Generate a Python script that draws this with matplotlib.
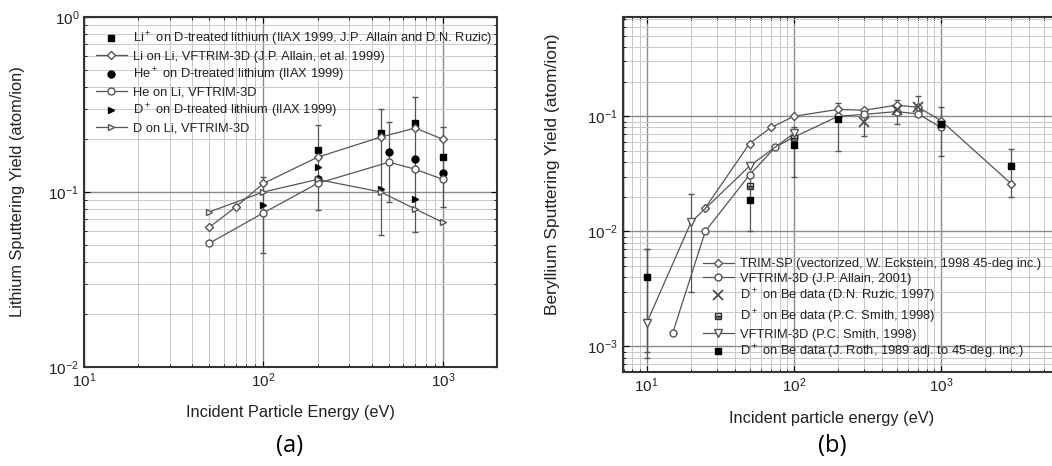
import numpy as np
import matplotlib
matplotlib.use("Agg")
import matplotlib.pyplot as plt

plt.rcParams['font.family'] = ['Liberation Sans', 'DejaVu Sans']
plt.rcParams['mathtext.default'] = 'regular'

# ---------------- (a) lithium data ----------------
li_exp_e = [200, 450, 700, 1000]
li_exp_y = [0.174, 0.217, 0.248, 0.158]
li_exp_lo = [0.079, 0.057, 0.059, 0.082]
li_exp_hi = [0.24, 0.30, 0.35, 0.235]

li_sim_e = [50, 70, 100, 200, 450, 700, 1000]
li_sim_y = [0.063, 0.082, 0.112, 0.158, 0.206, 0.232, 0.20]

he_exp_e = [200, 500, 700, 1000]
he_exp_y = [0.119, 0.169, 0.154, 0.129]
he_exp_lo = [0.088]
he_exp_hi = [0.25]

he_sim_e = [50, 100, 200, 500, 700, 1000]
he_sim_y = [0.051, 0.076, 0.112, 0.148, 0.135, 0.118]

d_exp_e = [100, 200, 450, 700]
d_exp_y = [0.084, 0.139, 0.104, 0.091]
d_exp_lo = [0.045]
d_exp_hi = [0.122]

d_sim_e = [50, 100, 200, 450, 700, 1000]
d_sim_y = [0.077, 0.100, 0.118, 0.100, 0.080, 0.067]

# ---------------- (b) beryllium data ----------------
trim_e = [25, 50, 70, 100, 200, 300, 500, 700, 1000, 3000]
trim_y = [0.016, 0.058, 0.080, 0.100, 0.115, 0.113, 0.125, 0.120, 0.092, 0.026]

vf_allain_e = [15, 25, 50, 75, 100, 200, 300, 500, 700, 1000]
vf_allain_y = [0.0013, 0.010, 0.031, 0.054, 0.066, 0.100, 0.104, 0.110, 0.105, 0.080]

ruzic_e = [300, 500, 700]
ruzic_y = [0.089, 0.113, 0.120]
ruzic_lo = [0.068, 0.085, 0.100]
ruzic_hi = [0.115, 0.140, 0.150]

smith_e = [50, 100, 1000]
smith_y = [0.025, 0.065, 0.085]

vf_smith_e = [10, 20, 50, 100]
vf_smith_y = [0.0016, 0.012, 0.037, 0.071]
vf_smith_lo = [0.0008, 0.003, 0.010, 0.030]
vf_smith_hi = [0.007, 0.021, 0.030, 0.080]

roth_e = [10, 50, 100, 200, 1000, 3000]
roth_y = [0.004, 0.0186, 0.056, 0.094, 0.085, 0.037]
roth_lo = [0.0009, 0.010, 0.030, 0.050, 0.045, 0.020]
roth_hi = [0.007, 0.030, 0.080, 0.130, 0.120, 0.052]

line_c = '#555555'
txt_c = '#222222'
ms = 5

fig = plt.figure(figsize=(10.52, 4.66), dpi=100)
W, H = 1052, 466


def style_axes(ax):
    ax.set_xscale('log')
    ax.set_yscale('log')
    ax.grid(True, which='major', color='#8a8a8a', lw=1.0)
    ax.grid(True, which='minor', color='#c8c8c8', lw=0.7)
    ax.set_axisbelow(True)
    ax.tick_params(which='both', direction='in', top=True, right=True, labelsize=11,
                   labelcolor=txt_c)
    ax.tick_params(which='major', length=4)
    ax.tick_params(which='minor', length=2)
    ax.yaxis.set_minor_formatter(matplotlib.ticker.NullFormatter())
    ax.xaxis.set_minor_formatter(matplotlib.ticker.NullFormatter())
    for s in ax.spines.values():
        s.set_linewidth(1.5)
        s.set_color('#333333')


# ---------------- panel (a) ----------------
ax1 = fig.add_axes([84 / W, (H - 367) / H, (497 - 84) / W, (367 - 17) / H])
style_axes(ax1)
ax1.set_xlim(10, 2000)
ax1.set_ylim(0.01, 1)

ax1.errorbar(li_exp_e, li_exp_y,
             yerr=[np.array(li_exp_y) - np.array(li_exp_lo), np.array(li_exp_hi) - np.array(li_exp_y)],
             fmt='none', ecolor=line_c, elinewidth=0.9, capsize=2.5)
ax1.errorbar([500], [he_exp_y[1]],
             yerr=[[he_exp_y[1] - he_exp_lo[0]], [he_exp_hi[0] - he_exp_y[1]]],
             fmt='none', ecolor=line_c, elinewidth=0.9, capsize=2.5)
ax1.errorbar([100], [d_exp_y[0]],
             yerr=[[d_exp_y[0] - d_exp_lo[0]], [d_exp_hi[0] - d_exp_y[0]]],
             fmt='none', ecolor=line_c, elinewidth=0.9, capsize=2.5)

ax1.plot(li_exp_e, li_exp_y, 's', color='black', ms=ms, ls='none',
         label='Li$^+$ on D-treated lithium (IIAX 1999, J.P. Allain and D.N. Ruzic)')
ax1.plot(li_sim_e, li_sim_y, 'D-', color=line_c, mfc='white', mec=line_c, ms=ms - 0.5, lw=0.9,
         label='Li on Li, VFTRIM-3D (J.P. Allain, et al. 1999)')
ax1.plot(he_exp_e, he_exp_y, 'o', color='black', ms=ms, ls='none',
         label='He$^+$ on D-treated lithium (IIAX 1999)')
ax1.plot(he_sim_e, he_sim_y, 'o-', color=line_c, mfc='white', mec=line_c, ms=ms, lw=0.9,
         label='He on Li, VFTRIM-3D')
ax1.plot(d_exp_e, d_exp_y, '>', color='black', ms=ms, ls='none',
         label='D$^+$ on D-treated lithium (IIAX 1999)')
ax1.plot(d_sim_e, d_sim_y, '>-', color=line_c, mfc='white', mec=line_c, ms=ms, lw=0.9,
         label='D on Li, VFTRIM-3D')

leg1 = ax1.legend(loc='upper left', bbox_to_anchor=(0.01, 0.985), frameon=False, fontsize=9.3,
                  handlelength=2.4, handletextpad=0.45, labelspacing=0.22, borderaxespad=0.2)
for t in leg1.get_texts():
    t.set_color(txt_c)

fig.text(290 / W, 1 - 413 / H, 'Incident Particle Energy (eV)', ha='center', va='center',
         fontsize=11.8, color=txt_c)
fig.text(18 / W, 1 - 192 / H, 'Lithium Sputtering Yield (atom/ion)', ha='center', va='center',
         rotation=90, fontsize=11.8, color=txt_c)
fig.text(290 / W, 1 - 446 / H, '(a)', ha='center', va='center', fontsize=17,
         family=['Open Sans', 'DejaVu Sans'])

# ---------------- panel (b) ----------------
ax2 = fig.add_axes([623 / W, (H - 372) / H, (1060 - 623) / W, (372 - 17) / H])
style_axes(ax2)
ax2.set_xlim(6.9, 6450)
ax2.set_ylim(0.0006, 0.73)

ax2.errorbar(ruzic_e, ruzic_y,
             yerr=[np.array(ruzic_y) - np.array(ruzic_lo), np.array(ruzic_hi) - np.array(ruzic_y)],
             fmt='none', ecolor=line_c, elinewidth=0.9, capsize=2.5)
ax2.errorbar(vf_smith_e[:2], vf_smith_y[:2],
             yerr=[np.array(vf_smith_y[:2]) - np.array(vf_smith_lo[:2]),
                   np.array(vf_smith_hi[:2]) - np.array(vf_smith_y[:2])],
             fmt='none', ecolor=line_c, elinewidth=0.9, capsize=2.5)
ax2.errorbar(roth_e, roth_y,
             yerr=[np.array(roth_y) - np.array(roth_lo), np.array(roth_hi) - np.array(roth_y)],
             fmt='none', ecolor=line_c, elinewidth=0.9, capsize=2.5)

ax2.plot(trim_e, trim_y, 'D-', color=line_c, mfc='white', mec=line_c, ms=ms - 0.5, lw=0.9,
         label='TRIM-SP (vectorized, W. Eckstein, 1998 45-deg inc.)')
ax2.plot(vf_allain_e, vf_allain_y, 'o-', color=line_c, mfc='white', mec=line_c, ms=ms, lw=0.9,
         label='VFTRIM-3D (J.P. Allain, 2001)')
ax2.plot(ruzic_e, ruzic_y, 'x', color='#444444', ms=ms + 2, mew=1.2, ls='none',
         label='D$^+$ on Be data (D.N. Ruzic, 1997)')
ax2.plot(smith_e, smith_y, 's', color='#333333', mfc='#777777', ms=ms - 1, ls='none', fillstyle='bottom',
         label='D$^+$ on Be data (P.C. Smith, 1998)')
ax2.plot(vf_smith_e, vf_smith_y, 'v-', color=line_c, mfc='white', mec=line_c, ms=ms + 1, lw=0.9,
         label='VFTRIM-3D (P.C. Smith, 1998)')
ax2.plot(roth_e, roth_y, 's', color='black', ms=ms - 0.5, ls='none',
         label='D$^+$ on Be data (J. Roth, 1989 adj. to 45-deg. inc.)')

leg2 = ax2.legend(loc='lower left', bbox_to_anchor=(72 / 437, 0.008), frameon=False, fontsize=9.3,
                  handlelength=2.4, handletextpad=0.45, labelspacing=0.2, borderaxespad=0.2)
for t in leg2.get_texts():
    t.set_color(txt_c)

fig.text(832 / W, 1 - 418 / H, 'Incident particle energy (eV)', ha='center', va='center',
         fontsize=11.8, color=txt_c)
fig.text(552 / W, 1 - 174 / H, 'Beryllium Sputtering Yield (atom/ion)', ha='center', va='center',
         rotation=90, fontsize=12.5, color=txt_c)
fig.text(832 / W, 1 - 446 / H, '(b)', ha='center', va='center', fontsize=17,
         family=['Open Sans', 'DejaVu Sans'])

fig.savefig('out.png', dpi=100)
